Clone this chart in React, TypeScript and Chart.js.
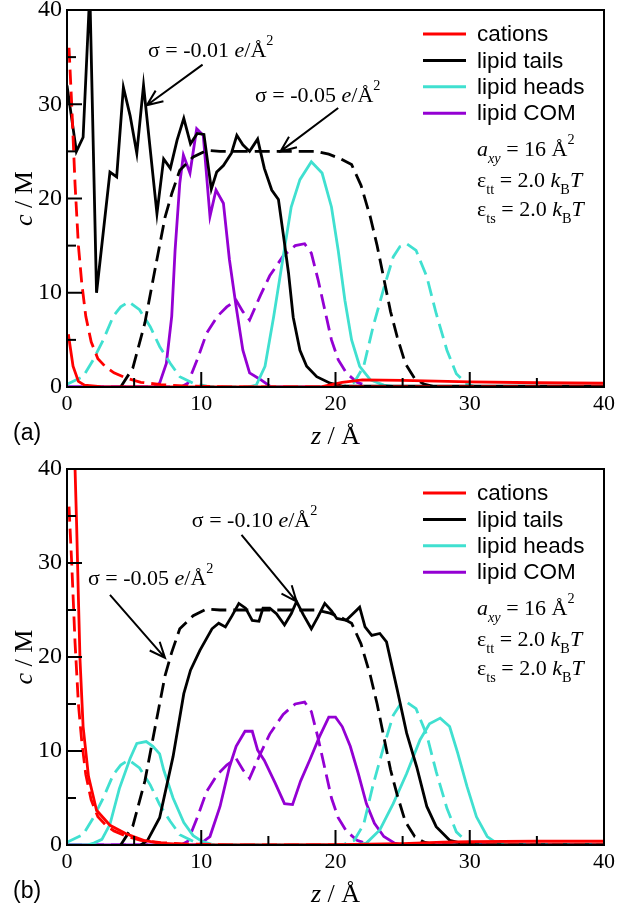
import React, { useEffect, useRef } from 'react';
import { Chart, registerables } from 'chart.js';

Chart.register(...registerables);

// ---------- data ----------
// sigma = -0.01 e/Å² (panel a, solid)
const catA_z = [0.1, 0.45, 0.85, 1.3, 2.5, 5, 10, 15, 19, 20.5, 22, 25, 30, 35, 40];
const catA_c = [5.6, 2.2, 0.6, 0.2, 0.05, 0, 0, 0, 0.05, 0.5, 0.75, 0.7, 0.55, 0.45, 0.4];
const tailA_z = [0, 0.7, 1.2, 1.7, 2.2, 3.2, 3.7, 4.2, 4.7, 5.2, 5.7, 6.7, 7.2, 7.7, 8.2, 8.7, 9.2, 9.7, 10.2, 10.75, 11.15, 11.65, 12.25, 12.65, 13.1, 13.6, 14.2, 14.7, 15.25, 15.75, 16.1, 16.5, 16.85, 17.35, 17.85, 18.6, 19.6, 20.5, 40];
const tailA_c = [32, 25, 26.5, 42, 10, 22.8, 22.3, 31.8, 28.8, 24.8, 32, 18.4, 24.2, 23.2, 26.2, 28.5, 25.8, 26.9, 26.8, 21.0, 22.8, 23.5, 24.8, 26.7, 25.7, 25.0, 26.3, 23.2, 20.9, 19.9, 16.3, 12.1, 7.4, 3.9, 2.2, 1.1, 0.4, 0.1, 0.1];
const headA_z = [13.5, 14.1, 14.75, 15.4, 16.1, 16.7, 17.35, 18.2, 19.0, 19.7, 20.2, 20.7, 21.2, 21.8, 22.6, 23.6, 24.5, 40];
const headA_c = [0, 0.2, 2.2, 7.5, 13.8, 19.1, 22, 23.9, 22.7, 19.1, 14.5, 9.2, 5.0, 2.2, 0.75, 0.2, 0, 0];
const comA_z = [0, 6.5, 6.9, 7.4, 7.8, 8.05, 8.4, 8.67, 9.16, 9.66, 10.15, 10.65, 11.1, 11.65, 12.1, 12.6, 13.1, 13.6, 14.4, 15.2, 40];
const comA_c = [0, 0, 0.4, 2.5, 7.5, 14.5, 21.6, 24.6, 22.7, 27.4, 26.7, 18.1, 20.9, 19.5, 13.5, 8.5, 3.9, 1.5, 0.8, 0, 0];

// sigma = -0.05 e/Å² (both panels, dashed)
const cat05_z = [0.15, 0.35, 0.6, 0.85, 1.1, 1.4, 1.8, 2.3, 2.9, 3.5, 4.5, 5.5, 7, 9, 12, 40];
const cat05_c = [36, 30, 21.5, 15, 11, 7.5, 4.8, 3.0, 2.1, 1.5, 0.9, 0.5, 0.25, 0.1, 0.02, 0];
const tail05_z = [4.0, 4.9, 5.8, 6.6, 7.3, 7.8, 8.4, 9.4, 10.4, 11.4, 13, 15, 17, 18.6, 19.5, 20.4, 21.2, 21.9, 22.6, 23.1, 23.6, 24.1, 24.6, 25.2, 25.9, 26.6, 27.5, 40];
const tail05_c = [0, 2.0, 6.8, 12.8, 18.0, 20.5, 23.0, 24.4, 25.1, 25.0, 25.0, 25.0, 25.0, 25.0, 24.7, 24.2, 23.6, 21.4, 18.0, 15.0, 11.5, 8.0, 5.3, 2.5, 0.9, 0.3, 0, 0];
const head05_z = [0, 1.2, 1.96, 2.7, 3.45, 4.0, 4.6, 5.4, 6.2, 6.9, 7.7, 8.4, 9.4, 10.4, 11.5, 20.5, 21.4, 22.1, 22.8, 23.6, 24.3, 24.8, 25.3, 26.0, 26.8, 27.5, 28.3, 29.0, 29.8, 30.5, 40];
const head05_c = [0.3, 1.1, 2.9, 5.0, 7.5, 8.5, 9.05, 8.2, 6.4, 4.3, 2.5, 1.1, 0.4, 0.1, 0, 0, 0.5, 2.2, 6.4, 10.5, 13.8, 14.9, 15.2, 14.5, 11.7, 7.8, 3.9, 1.4, 0.3, 0, 0];
const com05_z = [0, 8.5, 9.0, 9.7, 10.4, 11.2, 11.9, 12.6, 13.1, 13.6, 14.4, 15.1, 16.1, 17.0, 17.7, 18.2, 18.7, 19.2, 19.7, 20.2, 20.8, 21.6, 22.6, 40];
const com05_c = [0, 0, 0.4, 2.9, 5.7, 7.5, 8.5, 9.2, 8.0, 7.1, 9.7, 11.8, 13.9, 15.0, 15.2, 14.2, 11.4, 8.2, 5.0, 2.9, 1.5, 0.5, 0, 0];

// sigma = -0.10 e/Å² (panel b, solid)
const catB_z = [0.3, 0.6, 0.72, 0.84, 0.97, 1.2, 1.6, 2.2, 3.2, 4.4, 5.7, 6.9, 9, 15, 20, 25, 28, 30, 35, 40];
const catB_c = [60, 40, 33.9, 26.8, 19.7, 12.6, 7.3, 3.7, 2.1, 1.2, 0.5, 0.2, 0.05, 0.02, 0.05, 0.15, 0.3, 0.35, 0.4, 0.4];
const tailB_z = [5.5, 6.0, 6.9, 7.9, 8.7, 9.2, 9.9, 10.8, 11.3, 11.8, 12.3, 12.8, 13.3, 13.8, 14.3, 14.6, 15.1, 15.6, 16.2, 16.7, 17.1, 17.6, 18.2, 18.7, 19.2, 19.7, 20.1, 20.8, 21.3, 21.8, 22.2, 22.7, 23.3, 23.8, 24.6, 25.3, 26.05, 26.8, 27.5, 28.5, 29.5, 30.5, 40];
const tailB_c = [0, 0.5, 2.9, 9.4, 16.1, 18.6, 20.7, 23.0, 23.6, 23.2, 24.4, 25.7, 25.2, 23.9, 23.8, 25.2, 25.2, 24.6, 23.4, 24.6, 25.9, 24.5, 23.0, 24.3, 25.7, 24.9, 24.1, 23.9, 24.6, 25.3, 23.2, 22.3, 22.5, 21.6, 16.5, 11.9, 8.3, 4.1, 1.95, 0.5, 0.15, 0, 0];
const headB_z = [0, 1.5, 2.0, 2.6, 3.2, 3.9, 4.7, 5.2, 5.9, 6.4, 6.9, 7.2, 7.9, 8.7, 9.4, 10.1, 11, 21.5, 22.3, 23.3, 24.3, 25.3, 26.3, 27.0, 27.8, 28.5, 29.1, 29.8, 30.5, 31.3, 32, 33, 40];
const headB_c = [0, 0, 0.2, 0.6, 2.2, 6.0, 9.2, 10.8, 11.0, 10.5, 9.7, 8.0, 5.0, 2.4, 1.0, 0.35, 0, 0, 0.2, 1.6, 4.4, 7.6, 11.2, 12.9, 13.5, 12.6, 9.8, 6.2, 3.0, 0.9, 0.2, 0, 0];
const comB_z = [0, 9.5, 9.9, 10.65, 11.4, 12.1, 12.6, 13.26, 13.8, 14.2, 14.7, 15.5, 16.2, 16.8, 17.4, 18.1, 18.8, 19.5, 20.0, 20.5, 21.1, 21.7, 22.3, 22.9, 23.6, 24.4, 25, 40];
const comB_c = [0, 0, 0.1, 0.9, 4.1, 8.3, 10.5, 12.1, 12.1, 10.1, 9.0, 6.6, 4.4, 4.3, 6.8, 9.1, 11.5, 13.6, 13.6, 12.6, 10.5, 7.6, 4.4, 2.3, 0.9, 0.2, 0, 0];

const majorTicks = [0, 10, 20, 30, 40];
const minorTicks = [5, 15, 25, 35];
const legendLabels = ['cations', 'lipid tails', 'lipid heads', 'lipid COM'];

// ---------- styling ----------
const RED = '#ff0000';
const BLACK = '#000000';
const CYAN = '#40e0d0';
const PURPLE = '#9400d3';
const legendColors = [RED, BLACK, CYAN, PURPLE];
const SERIF = '"Liberation Serif", "Times New Roman", serif';
const SANS = '"Liberation Sans", Arial, sans-serif';
const W = 617;
const H = 454;

type Seg = { t: string; i?: boolean; sub?: boolean; sup?: boolean };

function drawRich(ctx: CanvasRenderingContext2D, segs: Seg[], x: number, y: number, size: number, align: 'left' | 'center' = 'left') {
  const fontOf = (s: Seg) => `${s.i ? 'italic ' : ''}${s.sub || s.sup ? size * 0.65 : size}px ${SERIF}`;
  let total = 0;
  const ws = segs.map((s) => {
    ctx.font = fontOf(s);
    const w = ctx.measureText(s.t).width;
    total += w;
    return w;
  });
  let cx = align === 'center' ? x - total / 2 : x;
  ctx.textBaseline = 'alphabetic';
  ctx.textAlign = 'left';
  segs.forEach((s, k) => {
    ctx.font = fontOf(s);
    const dy = s.sub ? size * 0.3 : s.sup ? -size * 0.55 : 0;
    ctx.fillText(s.t, cx, y + dy);
    cx += ws[k];
  });
}

function drawArrow(ctx: CanvasRenderingContext2D, x1: number, y1: number, x2: number, y2: number) {
  ctx.beginPath();
  ctx.moveTo(x1, y1);
  ctx.lineTo(x2, y2);
  const ang = Math.atan2(y2 - y1, x2 - x1);
  const L = 17;
  const a = 0.4;
  ctx.moveTo(x2 - L * Math.cos(ang - a), y2 - L * Math.sin(ang - a));
  ctx.lineTo(x2, y2);
  ctx.lineTo(x2 - L * Math.cos(ang + a), y2 - L * Math.sin(ang + a));
  ctx.stroke();
}

const sigmaLabel = (v: string): Seg[] => [{ t: `σ = ${v} ` }, { t: 'e', i: true }, { t: '/Å' }, { t: '2', sup: true }];

const decoPlugin = {
  id: 'deco',
  afterDatasetsDraw(chart: any, _args: any, opts: any) {
    const { ctx, chartArea: ca, scales } = chart;
    const xs = scales.x;
    const ys = scales.y;
    ctx.save();
    ctx.strokeStyle = BLACK;
    ctx.fillStyle = BLACK;
    ctx.lineWidth = 2;
    ctx.setLineDash([]);
    // frame
    ctx.strokeRect(ca.left, ca.top, ca.right - ca.left, ca.bottom - ca.top);
    // inward ticks
    const tick = (v: number, len: number) => {
      const px = xs.getPixelForValue(v);
      ctx.beginPath();
      ctx.moveTo(px, ca.bottom);
      ctx.lineTo(px, ca.bottom - len);
      ctx.stroke();
      const py = ys.getPixelForValue(v);
      ctx.beginPath();
      ctx.moveTo(ca.left, py);
      ctx.lineTo(ca.left + len, py);
      ctx.stroke();
    };
    majorTicks.forEach((v) => tick(v, 15));
    minorTicks.forEach((v) => tick(v, 9));

    // annotations with arrows (data coordinates)
    (opts.notes || []).forEach((n: any) => {
      drawRich(ctx, sigmaLabel(n.label), xs.getPixelForValue(n.tx), ys.getPixelForValue(n.ty), 22);
      ctx.lineWidth = 2;
      drawArrow(ctx, xs.getPixelForValue(n.ax), ys.getPixelForValue(n.ay), xs.getPixelForValue(n.bx), ys.getPixelForValue(n.by));
    });

    // legend
    const lx1 = ca.right - 181;
    const lx2 = ca.right - 138;
    const tx = ca.right - 127;
    legendLabels.forEach((lab, k) => {
      const y = ca.top + 24 + k * 26.4;
      ctx.strokeStyle = legendColors[k];
      ctx.lineWidth = 3;
      ctx.beginPath();
      ctx.moveTo(lx1, y);
      ctx.lineTo(lx2, y);
      ctx.stroke();
      ctx.fillStyle = BLACK;
      ctx.font = `22.5px ${SANS}`;
      ctx.textAlign = 'left';
      ctx.textBaseline = 'middle';
      ctx.fillText(lab, tx, y + 1);
    });
    ctx.strokeStyle = BLACK;
    ctx.fillStyle = BLACK;

    // parameters
    drawRich(ctx, [{ t: 'a', i: true }, { t: 'xy', i: true, sub: true }, { t: ' = 16 Å' }, { t: '2', sup: true }], tx, ca.top + 146, 22);
    drawRich(ctx, [{ t: 'ε' }, { t: 'tt', sub: true }, { t: ' = 2.0 ' }, { t: 'k', i: true }, { t: 'B', sub: true }, { t: 'T', i: true }], tx, ca.top + 177, 22);
    drawRich(ctx, [{ t: 'ε' }, { t: 'ts', sub: true }, { t: ' = 2.0 ' }, { t: 'k', i: true }, { t: 'B', sub: true }, { t: 'T', i: true }], tx, ca.top + 206, 22);

    // axis titles
    const cx = (ca.left + ca.right) / 2;
    drawRich(ctx, [{ t: 'z', i: true }, { t: ' / Å' }], cx, ca.bottom + 57, 26, 'center');
    ctx.save();
    ctx.translate(32, (ca.top + ca.bottom) / 2);
    ctx.rotate(-Math.PI / 2);
    drawRich(ctx, [{ t: 'c', i: true }, { t: ' / M' }], 0, 0, 26, 'center');
    ctx.restore();

    // panel tag
    ctx.font = `23px ${SANS}`;
    ctx.textAlign = 'left';
    ctx.textBaseline = 'alphabetic';
    ctx.fillText(opts.tag, 13, ca.bottom + 53);
    ctx.restore();
  },
};

function line(z: number[], c: number[], color: string, dashed: boolean) {
  return {
    data: z.map((x, i) => ({ x, y: c[i] })),
    borderColor: color,
    backgroundColor: color,
    borderWidth: 2.8,
    borderDash: dashed ? [15, 7] : [],
    pointRadius: 0,
    fill: false,
    tension: 0,
    clip: 0,
  };
}

function makeConfig(panel: 'a' | 'b') {
  const solid =
    panel === 'a'
      ? [line(catA_z, catA_c, RED, false), line(tailA_z, tailA_c, BLACK, false), line(headA_z, headA_c, CYAN, false), line(comA_z, comA_c, PURPLE, false)]
      : [line(catB_z, catB_c, RED, false), line(tailB_z, tailB_c, BLACK, false), line(headB_z, headB_c, CYAN, false), line(comB_z, comB_c, PURPLE, false)];
  const dashed = [line(cat05_z, cat05_c, RED, true), line(tail05_z, tail05_c, BLACK, true), line(head05_z, head05_c, CYAN, true), line(com05_z, com05_c, PURPLE, true)];
  const datasets = [solid[0], dashed[0], solid[1], dashed[1], solid[2], dashed[2], solid[3], dashed[3]];
  const top = panel === 'a' ? 10 : 15;
  const chartBottom = panel === 'a' ? 387 : 391;
  const notes =
    panel === 'a'
      ? [
          { label: '-0.01', tx: 6.03, ty: 35.0, ax: 10.1, ay: 34.2, bx: 5.95, by: 29.9 },
          { label: '-0.05', tx: 14.0, ty: 30.2, ax: 20.2, ay: 29.6, bx: 15.9, by: 25.0 },
        ]
      : [
          { label: '-0.10', tx: 9.3, ty: 33.8, ax: 13.0, ay: 33.0, bx: 17.1, by: 25.9 },
          { label: '-0.05', tx: 1.56, ty: 27.7, ax: 3.2, ay: 26.6, bx: 7.3, by: 19.9 },
        ];
  return {
    type: 'line' as const,
    data: { datasets },
    plugins: [decoPlugin],
    options: {
      animation: false as const,
      responsive: false,
      maintainAspectRatio: false,
      layout: { padding: { left: 0, top, right: 13, bottom: 0 } },
      plugins: {
        legend: { display: false },
        tooltip: { enabled: false },
        deco: { notes, tag: panel === 'a' ? '(a)' : '(b)' },
      },
      scales: {
        x: {
          type: 'linear' as const,
          min: 0,
          max: 40,
          grid: { display: false, drawTicks: false },
          border: { display: false },
          ticks: { stepSize: 10, color: BLACK, font: { family: SERIF, size: 22 }, padding: 4, maxRotation: 0 },
          afterFit: (s: any) => {
            s.height = H - chartBottom;
            s.paddingLeft = 0;
            s.paddingRight = 0;
          },
        },
        y: {
          type: 'linear' as const,
          min: 0,
          max: 40,
          grid: { display: false, drawTicks: false },
          border: { display: false },
          ticks: { stepSize: 10, color: BLACK, font: { family: SERIF, size: 24 }, padding: 5 },
          afterFit: (s: any) => {
            s.width = 67;
            s.paddingTop = 0;
            s.paddingBottom = 0;
          },
        },
      },
    },
  };
}

function Panel({ panel }: { panel: 'a' | 'b' }) {
  const ref = useRef<HTMLCanvasElement>(null);
  useEffect(() => {
    if (!ref.current) return;
    const chart = new Chart(ref.current, makeConfig(panel) as any);
    return () => chart.destroy();
  }, [panel]);
  return <canvas ref={ref} width={W} height={H} style={{ display: 'block', width: W, height: H }} />;
}

export default function App() {
  return (
    <div style={{ position: 'absolute', left: 0, top: 0, width: W, height: 2 * H, background: '#fff' }}>
      <Panel panel="a" />
      <Panel panel="b" />
    </div>
  );
}
